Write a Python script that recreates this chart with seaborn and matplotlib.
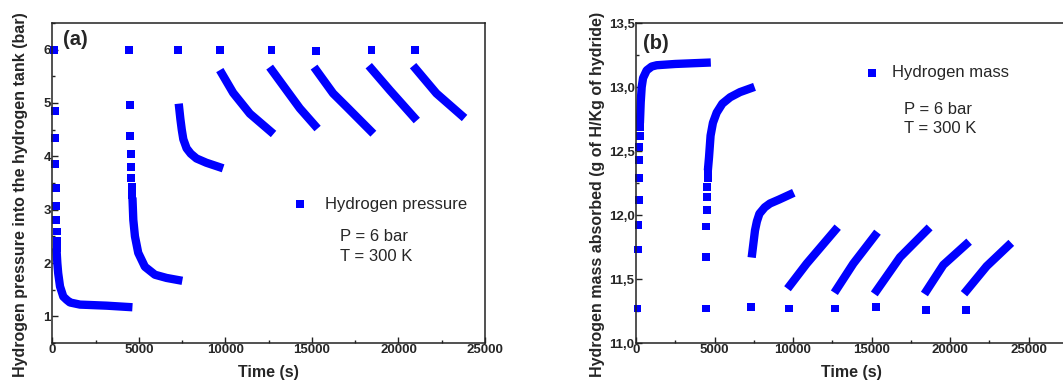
import numpy as np
import pandas as pd
import matplotlib
matplotlib.use("Agg")
import matplotlib.pyplot as plt
from matplotlib.ticker import MultipleLocator, FuncFormatter
import seaborn as sns

# ---------------- data: panel (a) hydrogen pressure (bar) ----------------
a_marker_t = [100, 150, 155, 160, 190, 210, 220, 250, 260, 290,
              4450, 4490, 4510, 4530, 4550, 4570, 4590, 4610,
              7280, 9683, 12665, 15225, 18440, 20940]
a_marker_p = [6.0, 4.85, 4.35, 3.85, 3.41, 3.07, 2.80, 2.59, 2.42, 2.28,
              6.0, 4.97, 4.38, 4.05, 3.80, 3.60, 3.43, 3.27,
              5.99, 6.0, 6.0, 5.98, 6.0, 6.0]

a_c1_t = [254, 290, 340, 446, 635, 830, 1020, 1600, 3140, 4390]
a_c1_p = [2.20, 2.00, 1.81, 1.56, 1.37, 1.31, 1.26, 1.22, 1.20, 1.175]
a_c2_t = [4640, 4680, 4775, 4965, 5350, 5930, 6600, 7275]
a_c2_p = [3.15, 2.81, 2.50, 2.19, 1.93, 1.78, 1.72, 1.68]
a_c3_t = [7330, 7400, 7480, 7570, 7760, 8000, 8330, 8900, 9640]
a_c3_p = [4.91, 4.70, 4.50, 4.32, 4.15, 4.05, 3.96, 3.88, 3.80]
a_c4_t = [9800, 10450, 11415, 12600]
a_c4_p = [5.55, 5.19, 4.80, 4.47]
a_c5_t = [12700, 13533, 14300, 15168]
a_c5_p = [5.61, 5.24, 4.90, 4.58]
a_c6_t = [15265, 16224, 17000, 18380]
a_c6_p = [5.61, 5.18, 4.93, 4.48]
a_c7_t = [18440, 19500, 20900]
a_c7_p = [5.64, 5.24, 4.73]
a_c8_t = [21000, 22194, 23638]
a_c8_p = [5.64, 5.18, 4.77]

# ---------------- data: panel (b) hydrogen mass absorbed ----------------
b_marker_t = [100, 150, 160, 170, 185, 200, 215, 230, 245,
              4440, 4460, 4480, 4500, 4520, 4540, 4560, 4580,
              7300, 9745, 12700, 15270, 18460, 21000]
b_marker_m = [11.27, 11.73, 11.92, 12.12, 12.29, 12.43, 12.53, 12.62, 12.69,
              11.27, 11.67, 11.91, 12.04, 12.14, 12.22, 12.29, 12.35,
              11.28, 11.27, 11.27, 11.28, 11.26, 11.26]

b_c1_t = [260, 300, 363, 450, 680, 1000, 1317, 2500, 4500]
b_c1_m = [12.75, 12.88, 13.00, 13.07, 13.13, 13.16, 13.17, 13.18, 13.19]
b_c2_t = [4600, 4650, 4750, 4900, 5140, 5500, 6000, 6620, 7300]
b_c2_m = [12.38, 12.45, 12.62, 12.72, 12.80, 12.87, 12.92, 12.96, 12.99]
b_c3_t = [7400, 7500, 7580, 7700, 7860, 8200, 8535, 9100, 9810]
b_c3_m = [11.70, 11.80, 11.88, 11.95, 12.01, 12.06, 12.09, 12.12, 12.16]
b_c4_t = [9810, 10870, 12675]
b_c4_m = [11.45, 11.62, 11.88]
b_c5_t = [12780, 13840, 15220]
b_c5_m = [11.42, 11.62, 11.84]
b_c6_t = [15330, 16815, 18515]
b_c6_m = [11.41, 11.67, 11.88]
b_c7_t = [18515, 19575, 21020]
b_c7_m = [11.41, 11.61, 11.77]
b_c8_t = [21060, 22335, 23710]
b_c8_m = [11.41, 11.60, 11.76]

a_curves = [(a_c1_t, a_c1_p), (a_c2_t, a_c2_p), (a_c3_t, a_c3_p), (a_c4_t, a_c4_p),
            (a_c5_t, a_c5_p), (a_c6_t, a_c6_p), (a_c7_t, a_c7_p), (a_c8_t, a_c8_p)]
b_curves = [(b_c1_t, b_c1_m), (b_c2_t, b_c2_m), (b_c3_t, b_c3_m), (b_c4_t, b_c4_m),
            (b_c5_t, b_c5_m), (b_c6_t, b_c6_m), (b_c7_t, b_c7_m), (b_c8_t, b_c8_m)]


def curve_frame(curves):
    rows = []
    for i, (ts, vs) in enumerate(curves):
        for t, v in zip(ts, vs):
            rows.append({"cycle": i, "t": t, "v": v})
    return pd.DataFrame(rows)


sns.set_style("ticks")
plt.rcParams["font.family"] = ["Liberation Sans", "DejaVu Sans"]

BLUE = "#0000ff"
fig = plt.figure(figsize=(10.63, 3.85), dpi=100)
ax_a = fig.add_axes([52.3 / 1063, 42 / 385, 432.7 / 1063, 320 / 385])
ax_b = fig.add_axes([636 / 1063, 42 / 385, 431.75 / 1063, 320 / 385])


def draw(ax, mt, mv, curves, label):
    df = curve_frame(curves)
    sns.lineplot(data=df, x="t", y="v", units="cycle", estimator=None, sort=False,
                 color=BLUE, lw=6.0, solid_capstyle="projecting",
                 solid_joinstyle="round", ax=ax, legend=False)
    sns.scatterplot(x=mt, y=mv, marker="s", s=32, color=BLUE, edgecolor="none",
                    linewidth=0, label=label, ax=ax, clip_on=False)


draw(ax_a, a_marker_t, a_marker_p, a_curves, "Hydrogen pressure")
draw(ax_b, b_marker_t, b_marker_m, b_curves, "Hydrogen mass")

ax_a.set_xlim(0, 25000)
ax_a.set_ylim(0.5, 6.5)
ax_a.yaxis.set_major_locator(MultipleLocator(1))
ax_a.yaxis.set_minor_locator(MultipleLocator(0.5))
ax_b.set_xlim(0, 27500)
ax_b.set_ylim(11.0, 13.5)
ax_b.yaxis.set_major_locator(MultipleLocator(0.5))
ax_b.yaxis.set_minor_locator(MultipleLocator(0.25))
ax_b.yaxis.set_major_formatter(FuncFormatter(lambda v, p: f"{v:.1f}".replace(".", ",")))

for ax in (ax_a, ax_b):
    ax.xaxis.set_major_locator(MultipleLocator(5000))
    ax.xaxis.set_minor_locator(MultipleLocator(2500))
    ax.set_xticks([0, 5000, 10000, 15000, 20000, 25000])
    ax.tick_params(which="both", direction="in", color="#222222", width=1.0)
    ax.tick_params(which="major", length=4, labelsize=9.5, pad=1)
    ax.tick_params(which="minor", length=2.5)
    for lab in ax.get_xticklabels() + ax.get_yticklabels():
        lab.set_fontweight("bold")
    for s in ax.spines.values():
        s.set_color("#222222")
        s.set_linewidth(1.1)
    ax.set_xlabel("Time (s)", fontsize=11.5, fontweight="bold")
    ax.xaxis.set_label_coords(0.5, -0.07)

ax_a.set_ylabel("Hydrogen pressure into the hydrogen tank (bar)", fontsize=11.5, fontweight="bold")
ax_a.yaxis.set_label_coords(-0.057, 0.4625)
ax_b.set_ylabel("Hydrogen mass absorbed (g of H/Kg of hydride)", fontsize=11.5, fontweight="bold")
ax_b.yaxis.set_label_coords(-0.071, 0.4656)

ax_a.legend(frameon=False, loc="center left", bbox_to_anchor=(0.5526, 0.434),
            handlelength=1.0, handletextpad=1.0, borderpad=0, borderaxespad=0,
            prop={"size": 12})
ax_b.legend(frameon=False, loc="center left", bbox_to_anchor=(0.5267, 0.8447),
            handlelength=1.0, handletextpad=0.74, borderpad=0, borderaxespad=0,
            prop={"size": 12})

ax_a.text(0.6649, 0.332, "P = 6 bar", transform=ax_a.transAxes, fontsize=12, va="center")
ax_a.text(0.6649, 0.270, "T = 300 K", transform=ax_a.transAxes, fontsize=12, va="center")
ax_b.text(0.6207, 0.731, "P = 6 bar", transform=ax_b.transAxes, fontsize=12, va="center")
ax_b.text(0.6207, 0.669, "T = 300 K", transform=ax_b.transAxes, fontsize=12, va="center")

ax_a.text(0.0254, 0.949, "(a)", transform=ax_a.transAxes, fontsize=14.5, fontweight="bold", va="center")
ax_b.text(0.017, 0.9365, "(b)", transform=ax_b.transAxes, fontsize=14.5, fontweight="bold", va="center")

fig.savefig("out.png", dpi=100)
